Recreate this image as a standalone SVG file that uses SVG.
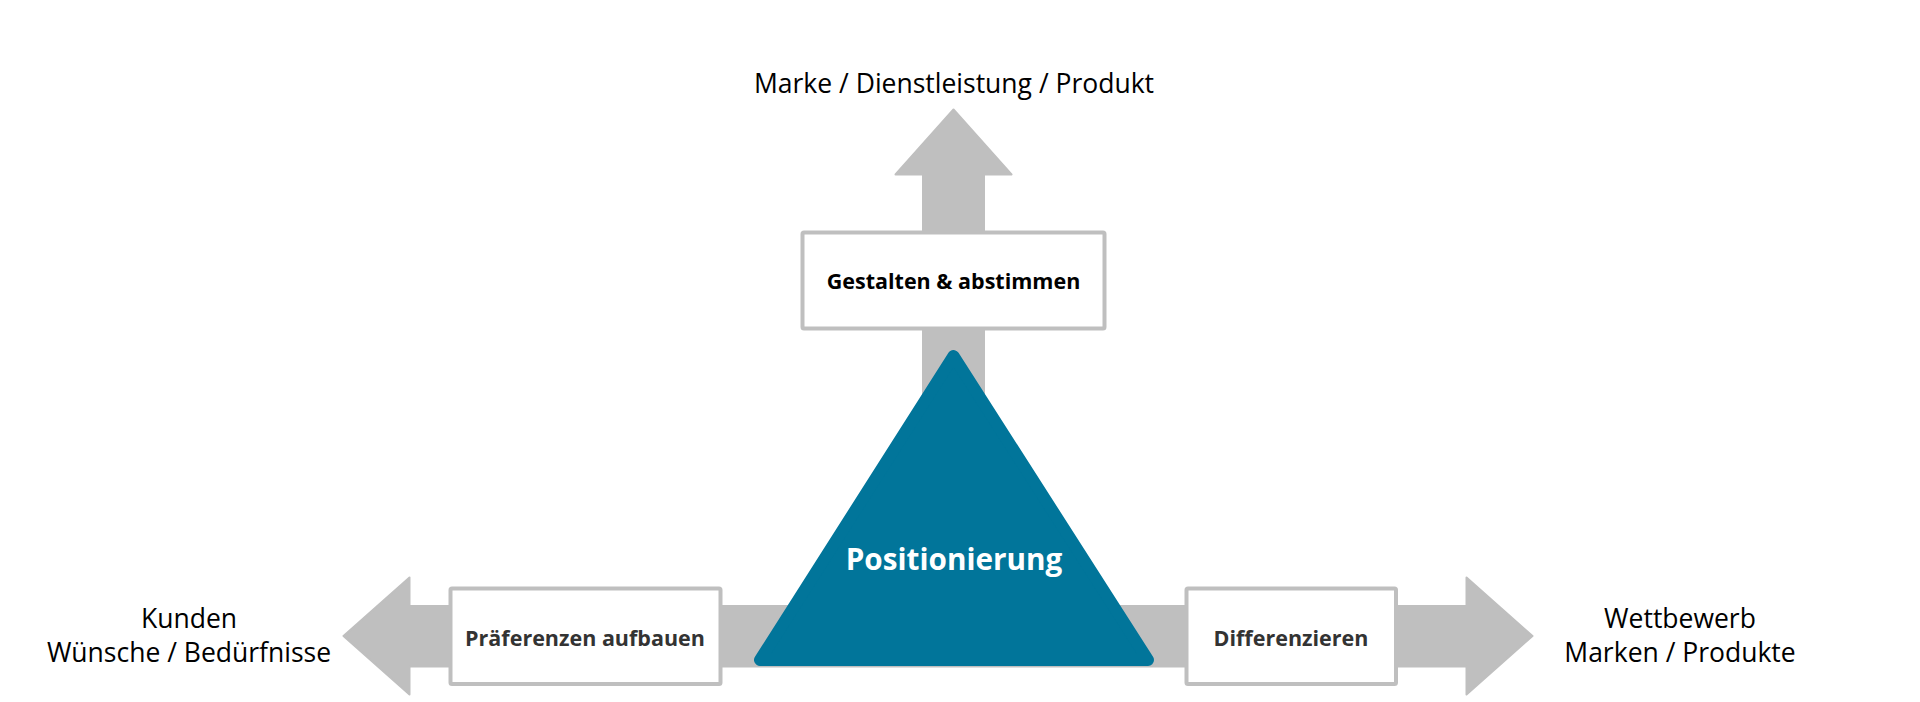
<svg xmlns="http://www.w3.org/2000/svg" width="1920" height="702" viewBox="0 0 1920 702">
  <style>
    .arrow { fill: #BFBFBF; stroke: #BFBFBF; stroke-width: 2; stroke-linejoin: round; }
    .box { fill: #FFFFFF; stroke: #BFBFBF; stroke-width: 4; }
    .lbl { font-family: "Open Sans", "Noto Sans", "Liberation Sans", sans-serif; font-size: 26.5px; fill: #000000; text-anchor: middle; }
    .boxtxt { font-family: "Open Sans", "Noto Sans", "Liberation Sans", sans-serif; font-size: 21.5px; font-weight: bold; fill: #333333; text-anchor: middle; }
    .tri { fill: #01759A; stroke: #01759A; stroke-width: 12; stroke-linejoin: round; }
    .tritxt { font-family: "Open Sans", "Noto Sans", "Liberation Sans", sans-serif; font-size: 29.7px; font-weight: bold; fill: #FFFFFF; text-anchor: middle; }
  </style>
  <rect width="1920" height="702" fill="#FFFFFF"/>
  <g id="connectors">
    <polygon class="arrow" points="953.5,109.5 1011.5,174.5 984,174.5 984,420 923,420 923,174.5 895.5,174.5"/>
    <polygon class="arrow" points="343.5,636 409.5,577.5 409.5,606 1466.5,606 1466.5,577.5 1532.5,636 1466.5,694.5 1466.5,666.5 409.5,666.5 409.5,694.5"/>
  </g>
  <g id="label-top">
    <text class="lbl" x="954" y="92.5">Marke / Dienstleistung / Produkt</text>
  </g>
  <g id="label-left">
    <text class="lbl" x="189" y="628">Kunden</text>
    <text class="lbl" x="189" y="661.5">Wünsche / Bedürfnisse</text>
  </g>
  <g id="label-right">
    <text class="lbl" x="1680" y="628">Wettbewerb</text>
    <text class="lbl" x="1680" y="661.5">Marken / Produkte</text>
  </g>
  <g id="node-gestalten">
    <rect class="box" x="802.5" y="232.5" width="302" height="96" rx="1.5"/>
    <text class="boxtxt" x="953.5" y="289" style="fill:#000000">Gestalten &amp; abstimmen</text>
  </g>
  <g id="node-praeferenzen">
    <rect class="box" x="450.5" y="588.5" width="270" height="95.5" rx="1.5"/>
    <text class="boxtxt" x="585" y="646">Präferenzen aufbauen</text>
  </g>
  <g id="node-differenzieren">
    <rect class="box" x="1186.5" y="588.5" width="209.5" height="95.5" rx="1.5"/>
    <text class="boxtxt" x="1291" y="646">Differenzieren</text>
  </g>
  <g id="node-positionierung">
    <polygon class="tri" points="953.5,356 760,660 1148,660"/>
    <text class="tritxt" x="954" y="570">Positionierung</text>
  </g>
</svg>
